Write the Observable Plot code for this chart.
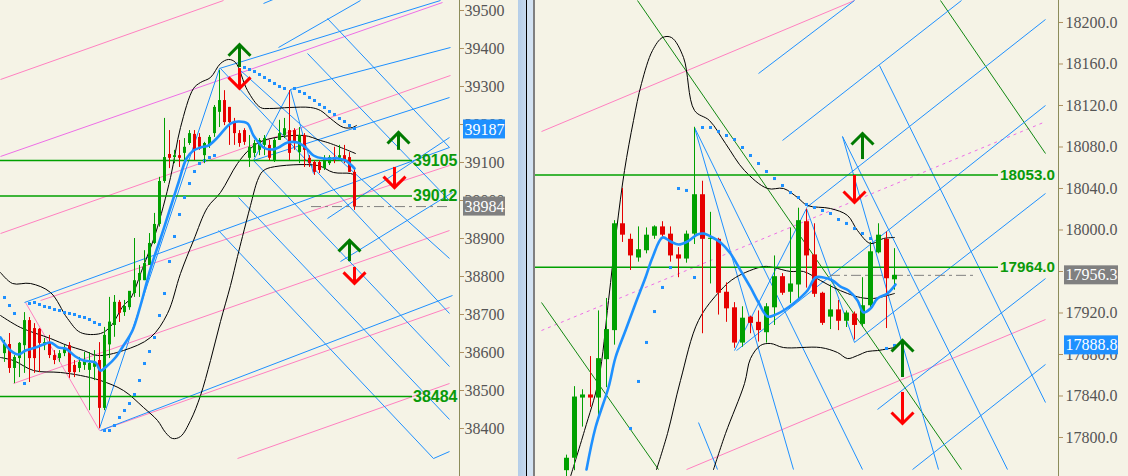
<!DOCTYPE html>
<html><head><meta charset="utf-8">
<script src="https://cdn.jsdelivr.net/npm/d3@7"></script>
<script src="https://cdn.jsdelivr.net/npm/@observablehq/plot@0.6"></script>
<style>
html,body{margin:0;padding:0;background:#f5f3e6;}
#wrap{position:relative;width:1128px;height:476px;overflow:hidden;background:#f5f3e6;}
#left{position:absolute;left:0;top:0;}
#right{position:absolute;left:535px;top:0;}
.sep{position:absolute;top:0;height:476px;}
</style></head><body>
<div id="wrap">
<div id="left"></div>
<div class="sep" style="left:518px;width:8px;background:linear-gradient(90deg,#b4cde8,#c6d9ee);"></div>
<div class="sep" style="left:526px;width:1px;background:#000;"></div>
<div class="sep" style="left:527px;width:6px;background:#d3e2f2;"></div>
<div class="sep" style="left:533px;width:2px;background:#7f7f7f;"></div>
<div id="right"></div>
</div>
<script>
// ---------------- LEFT PANEL DATA ----------------
const leftTicks = [38400,38500,38600,38700,38800,38900,39000,39100,39200,39300,39400,39500];
const leftOpen  = [38597,38621,38558,38584,38618,38684,38663,38661,38618,38626,38592,38584,38597,38618,38566,38558,38566,38553,38561,38579,38453,38620,38671,38732,38705,38718,38755,38789,38789,38829,38887,38937,39050,39121,39113,39118,39124,39150,39174,39166,39118,39145,39176,39232,39263,39245,39205,39176,39184,39111,39124,39132,39145,39145,39105,39158,39171,39184,39184,39126,39171,39111,39100,39100,39084,39097,39113,39111,39118,39113,39074];
const leftHigh  = [38632,38650,38592,38626,38705,38692,38676,38663,38637,38645,38605,38605,38618,38626,38579,38587,38600,38600,38605,38626,38666,38745,38750,38737,38737,38750,38900,38829,38868,38913,38966,39061,39216,39184,39132,39158,39163,39184,39184,39176,39153,39171,39250,39342,39289,39245,39216,39184,39189,39171,39158,39163,39171,39158,39163,39211,39216,39289,39189,39192,39176,39118,39105,39105,39118,39118,39140,39145,39145,39126,39087];
const leftLow   = [38574,38545,38518,38534,38545,38521,38545,38547,38605,38584,38568,38574,38589,38532,38534,38547,38553,38447,38526,38400,38447,38584,38640,38679,38695,38711,38745,38745,38789,38829,38884,38930,39045,39084,39097,39087,39097,39145,39105,39132,39097,39137,39166,39192,39197,39145,39145,39140,39145,39087,39113,39118,39118,39105,39100,39158,39163,39105,39132,39097,39087,39087,39066,39071,39079,39092,39097,39105,39097,39074,38974];
const leftClose = [38621,38558,38587,38624,38684,38584,38584,38624,38626,38592,38579,38597,38611,38547,38547,38574,38579,38571,38574,38453,38645,38680,38732,38703,38721,38761,38789,38808,38834,38887,38937,39050,39113,39111,39118,39111,39140,39176,39132,39140,39150,39166,39245,39263,39205,39205,39176,39150,39153,39140,39150,39158,39163,39111,39158,39176,39189,39124,39150,39171,39132,39097,39074,39079,39111,39113,39105,39118,39105,39074,38984];
const leftMA = [[-0.8,38639.5],[1.2,38605.2],[2.8,38594.7],[4.2,38605.2],[6.2,38613.2],[7.8,38621.0],[9.2,38626.3],[10.8,38613.2],[12.2,38610.5],[14.2,38589.5],[15.8,38578.9],[18.2,38573.7],[19.2,38552.6],[20.6,38565.8],[22.2,38586.8],[23.8,38618.4],[25.6,38657.9],[27.2,38723.7],[29.2,38821.0],[31.2,38900.0],[33.2,38981.6],[34.8,39047.4],[36.4,39110.5],[37.8,39131.6],[39.2,39139.5],[40.8,39144.7],[42.6,39165.8],[45.2,39202.6],[46.8,39207.9],[48.6,39202.6],[49.8,39171.0],[51.8,39139.5],[53.6,39134.2],[54.8,39139.5],[56.6,39152.6],[58.6,39152.6],[60.2,39139.5],[61.8,39118.4],[63.8,39110.5],[66.6,39110.5],[68.2,39105.2],[70,39084.2]];
const leftBBUp = [[-0.8,38810.5],[1.6,38781.6],[5.2,38781.6],[9.2,38757.9],[12.6,38689.5],[15.2,38652.6],[19.2,38650.0],[21.2,38668.4],[23.8,38723.7],[25.2,38742.1],[27.6,38821.0],[30.2,38913.2],[33.2,39060.5],[35.2,39192.1],[37.8,39294.7],[39.2,39310.5],[41.2,39323.7],[43.2,39360.5],[44.8,39371.1],[46.2,39363.2],[48.6,39289.5],[51.2,39244.7],[53,39242.1],[57,39244.7],[61.2,39244.7],[63.2,39236.8],[65.2,39215.8],[67.8,39192.1],[69.6,39192.1],[70.4,39197.4]];
const leftBBMid = [[-0.8,38697.4],[3.2,38665.8],[9.2,38636.8],[12.6,38618.4],[15.8,38605.3],[18.6,38592.1],[23.8,38605.3],[29.2,38639.5],[32.6,38702.6],[35.2,38807.9],[37.8,38894.7],[40.6,38981.6],[43.2,39021.1],[46.6,39097.4],[49.2,39136.8],[51.8,39157.9],[59.8,39171.1],[63.2,39157.9],[65.2,39150.0],[70.2,39123.7]];
const leftBBLow = [[-0.8,38586.8],[1.8,38578.9],[5.8,38552.6],[11.2,38547.4],[15.2,38539.5],[19.2,38526.3],[23.8,38500.0],[27.8,38455.3],[30.6,38421.1],[32.2,38389.5],[33.6,38373.7],[35.2,38378.9],[37.2,38421.0],[39.2,38486.8],[41.2,38578.9],[43.2,38681.6],[45.2,38776.3],[46.6,38852.6],[47.6,38905.3],[49.2,38986.8],[50.6,39052.6],[51.6,39076.3],[53.2,39086.8],[62.6,39092.1],[65.8,39073.7],[69.2,39071.1],[70.2,39065.8]];
const leftSAR = [[0,38744.7],[1,38723.7],[2,38702.6],[4,38518.4],[5,38729.0],[6,38731.6],[7,38726.3],[8,38721.1],[9,38718.4],[10,38713.2],[11,38710.5],[12,38705.3],[13,38702.6],[14,38700.0],[15,38694.7],[16,38692.1],[17,38686.8],[18,38678.9],[19,38673.7],[20,38394.7],[21,38394.7],[22,38407.9],[23,38429.0],[24,38447.4],[25,38465.8],[26,38489.5],[27,38526.3],[28,38571.1],[29,38602.6],[30,38639.5],[31,38697.4],[32,38755.3],[33,38839.5],[34,38905.2],[35,38963.2],[36,39007.9],[37,39044.7],[38,39076.3],[39,39097.4],[40,39105.3],[41,39113.2],[42,39118.4],[48,39350.0],[49,39344.7],[50,39339.5],[51,39331.6],[52,39323.7],[53,39315.8],[54,39307.9],[55,39300.0],[56,39294.7],[58,39294.7],[59,39286.8],[60,39281.6],[61,39271.1],[62,39263.2],[63,39252.6],[64,39244.7],[65,39234.2],[66,39226.3],[67,39215.8],[68,39207.9],[69,39197.4],[70,39189.5]];
const leftBlueLines = [[4,38731.6,89,39139.5],[19.2,38394.7,89.6,38750.0],[43,39347.4,87.2,39526.3],[54.8,39402.6,71.2,39526.3],[57.2,39292.1,89.2,39402.6],[49.8,39105.2,89,39271.0],[64.6,38952.6,89,39165.8],[67.2,38839.4,89.6,39021.0],[85.8,38321.0,89,38339.4],[51.8,39518.4,54.2,39531.6],[19,38400,43,39347.4],[57.2,39292.1,49.8,39105.2],[57.2,39292.1,61.8,39071.0],[64.6,39478.9,89,39139.5],[60.6,39386.8,89,39000.0],[47.2,39342.1,89,38847.4],[43.2,39347.4,89,38702.6],[49.8,39105.2,89,38563.1],[46.8,39007.9,89,38423.7],[42.8,38921.0,85.8,38321.0]];
const leftPinkLines = [[-0.8,39318.4,43.8,39526.3],[-0.8,38913.1,89.2,39329.0],[7.2,38736.8,89,39092.1],[1.8,38518.4,89,38921.0],[19.2,38394.7,89,38718.4],[46.6,38321.0,89,38518.4],[4.2,38731.6,19,38394.7]];
const leftVioletLines = [[-0.8,39115.8,87.6,39521.0]];
const leftLevels = [39105, 39012, 38484];
const leftLast = 38984;
const leftMarker = 39187;
const leftArrowsUp = [[47,39350,39410],[78.8,39132,39179],[69,38839,38895]];
const leftArrowsDown = [[47,39347,39295],[78,39087,39034],[70,38824,38782]];

// ---------------- RIGHT PANEL DATA ----------------
const rightTicks = [17800,17840,17880,17920,17960,18000,18040,18080,18120,18160,18200];
const rightOpen  = [17768,17780,17838,17841,17838,17875,17903,18006,17991,17973,17980,17994,18003,17996,17976,17972,17996,18034,17991,17991,17940,17925,17891,17916,17911,17901,17925,17955,17940,17947,18008,17976,17939,17916,17923,17912,17919,17909,17927,17978,17991,17952];
const rightHigh  = [17783,17849,17846,17878,17922,17934,18009,18040,17996,18003,18002,18004,18008,18003,17983,17999,18099,18047,18017,17992,17949,17930,17926,17917,17922,17929,17975,17958,18002,18021,18020,18006,17940,17947,17932,17922,17921,17954,17988,18006,17998,17982];
const rightLow   = [17759,17768,17810,17829,17816,17848,17889,17988,17961,17969,17977,17991,17993,17969,17954,17968,17986,17900,17948,17918,17911,17886,17887,17900,17892,17891,17908,17937,17929,17932,17944,17935,17908,17904,17903,17906,17894,17906,17924,17977,17905,17942];
const rightClose = [17780,17839,17841,17838,17876,17904,18006,17995,17975,17981,17995,18003,17995,17975,17972,17996,18034,17991,17992,17939,17924,17891,17915,17910,17903,17926,17955,17939,17948,18009,17975,17938,17910,17923,17912,17920,17908,17927,17979,17995,17953,17956.3];
const rightMA = [[2.5,17769.1],[3.625,17809.6],[5.25,17848.2],[6.125,17877.1],[7.375,17903.1],[8.625,17929.2],[9.875,17954.2],[10.75,17973.5],[12,17992.8],[13,17988.9],[14,17986.0],[15.125,17988.9],[16.375,17995.7],[17.125,17996.6],[18.25,17992.8],[19.25,17988.0],[20.5,17977.3],[21.75,17961.0],[23,17944.6],[24,17930.1],[25.125,17916.6],[25.875,17917.6],[27.125,17922.4],[28.375,17929.2],[30.125,17941.7],[31.125,17954.2],[32.125,17954.2],[33.25,17951.3],[34.25,17945.5],[35.25,17941.7],[36.375,17932.0],[37.125,17920.5],[38,17924.3],[38.875,17934.0],[40.125,17938.8],[41.125,17947.5]];
const rightBBUp = [[0.5,17762.4],[2.25,17806.7],[4,17855.0],[5.25,17932.0],[6.25,17999.5],[7.25,18057.3],[8.375,18105.5],[9.375,18141.2],[10.75,18173.0],[12,18185.5],[13.125,18185.5],[14.625,18166.3],[16,18115.2],[17.875,18105.5],[19.875,18083.4],[22.25,18057.3],[25.125,18040.0],[27.125,18040.0],[28.875,18031.3],[30.125,18023.6],[33,18020.7],[35.125,18014.0],[36.375,17999.5],[38,17987.0],[39.625,17991.8],[41,17992.8]];
const rightBBMid = [[11.25,17769.1],[12.625,17803.8],[14.25,17855.0],[16.5,17912.8],[19.25,17941.7],[21.125,17954.2],[24.625,17964.8],[25.875,17963.8],[28,17960.0],[29.625,17960.0],[31.75,17951.3],[33.375,17944.6],[35.125,17938.8],[36.75,17934.9],[38.375,17934.0],[40.125,17936.9],[41,17938.8]];
const rightBBLow = [[18.375,17769.1],[19.875,17803.8],[22.25,17852.0],[23,17876.1],[24.25,17888.7],[25.5,17890.6],[27.125,17886.7],[31.75,17886.7],[33.875,17881.9],[35.125,17876.1],[36.375,17879.0],[37.625,17882.9],[38.875,17883.8],[41,17886.7]];
const rightSAR = [[8,17808.7],[9,17854.0],[10,17891.6],[11,17921.4],[12,17944.6],[13,17963.8],[14,18040.0],[15,18038.1],[16,17954.2],[17,18098.8],[18,18098.8],[19,18095.0],[20,18091.1],[21,18087.2],[22,18079.5],[23,18071.8],[24,18064.1],[25,18056.4],[26,18049.6],[27,18042.9],[28,18036.1],[29,18031.3],[30,18024.6],[31,18021.7],[32,18018.8],[33,18015.9],[34,18010.1],[35,18006.3],[36,18001.4],[37,17996.6],[38,17991.8],[40,17885.8],[41,17888.7]];
const rightBlueLines = [[30,18021.7,59.875,18202.9],[21.25,17883.8,59.875,18120.0],[36,17891.6,59.875,18035.2],[38.875,17827.0,59.875,17953.2],[43.25,17769.1,59.875,17870.4],[24,18150.8,36,18221.2],[27,18086.3,49.375,18221.2],[21,17883.8,30,18020.7],[16,18098.8,28.375,17769.1],[16,18098.8,37,17769.1],[34.5,18090.1,46.5,17769.1],[34.5,18090.1,55.125,17769.1],[39.125,18158.5,59.875,17833.7],[30,18020.7,36,17891.6],[16.5,17814.4,18.875,17769.1]];
const rightPinkLines = [[-3.125,18094.9,36,18221.2],[15,17769.1,59.875,17913.7]];
const rightVioletDotted = [[-3.125,17903.1,59.625,18103.6]];
const rightGreenLines = [[8.875,18221.2,49.375,17769.1],[-3.125,17930.1,11.5,17769.1],[46.75,18221.2,59.875,18073.7]];
const rightLevels = [18053.0, 17964.0];
const rightLast = 17956.3;
const rightMarker = 17888.8;
const rightArrowsUp = [[37,18067.9,18093.0],[42,17857.8,17893.5]];
const rightArrowsDown = [[36,18052.5,18026.5],[42,17843.4,17813.5]];

// ---------------- STYLE ----------------
const UP="#00a000", DOWN="#e60000", BLUE="#1e90ff", PINK="#ff80c0", VIOLET="#ee6ee6",
      GREEN="#00a000", DKGREEN="#007a00", AXIS="#8c8c5a", TICK="#b09060", LABEL="#0a9a0a";
const SERIF="'Liberation Serif', 'Times New Roman', serif";
const SANS="'Liberation Sans', Arial, sans-serif";

function chevron(s){ // s=1 tip at top, s=-1 tip at bottom
  return {draw(ctx,size){const r=Math.sqrt(size/Math.PI); ctx.moveTo(-r,s*r); ctx.lineTo(0,0); ctx.lineTo(r,s*r);}};
}
function candleMarks(O,H,L,C,bw){
  const data=O.map((o,i)=>({i,o,h:H[i],l:L[i],c:C[i],col:C[i]>=o?UP:DOWN}));
  return [
    Plot.ruleX(data,{x:"i",y1:"l",y2:"h",stroke:"col",strokeWidth:1}),
    Plot.ruleX(data,{x:"i",y1:"o",y2:"c",stroke:"col",strokeWidth:bw})
  ];
}
const seg=(data,o)=>Plot.link(data,{x1:d=>d[0],y1:d=>d[1],x2:d=>d[2],y2:d=>d[3],clip:true,...o});
const pts=(data,o)=>Plot.line(data,{x:d=>d[0],y:d=>d[1],curve:"catmull-rom",clip:true,...o});
function arrows(up,down){
  return [
    Plot.ruleX(up,{x:d=>d[0],y1:d=>d[1],y2:d=>d[2],stroke:DKGREEN,strokeWidth:3}),
    Plot.dot(up,{x:d=>d[0],y:d=>d[2],symbol:chevron(1),r:11,stroke:DKGREEN,strokeWidth:3,fill:"none",strokeLinejoin:"miter"}),
    Plot.ruleX(down,{x:d=>d[0],y1:d=>d[1],y2:d=>d[2],stroke:"#ff0000",strokeWidth:3}),
    Plot.dot(down,{x:d=>d[0],y:d=>d[2],symbol:chevron(-1),r:11,stroke:"#ff0000",strokeWidth:3,fill:"none",strokeLinejoin:"miter"})
  ];
}

function panel(cfg){
  const [x0,x1]=cfg.xDomain;
  return Plot.plot({
    width:cfg.width, height:476, marginLeft:0, marginRight:cfg.marginRight, marginTop:0, marginBottom:0,
    x:{domain:cfg.xDomain, axis:null},
    y:{domain:cfg.yDomain},
    color:{type:"identity"},
    style:{background:"transparent", fontFamily:SERIF, fontSize:"16px"},
    marks:[
      ...cfg.lines,
      pts(cfg.bbUp,{stroke:"#000",strokeWidth:1}),
      pts(cfg.bbMid,{stroke:"#000",strokeWidth:1}),
      pts(cfg.bbLow,{stroke:"#000",strokeWidth:1}),
      Plot.ruleY(cfg.levels,{y:d=>d,x1:()=>x0,x2:()=>cfg.levelEnd,stroke:GREEN,strokeWidth:1.5}),
      Plot.ruleY([cfg.last],{y:d=>d,x1:()=>cfg.dashFrom,x2:()=>cfg.dashTo,stroke:"#808080",strokeWidth:1,strokeDasharray:"10,4,3,4"}),
      Plot.dot(cfg.sar,{x:d=>d[0],y:d=>d[1],symbol:"square",r:1.7,fill:BLUE,clip:true}),
      ...candleMarks(cfg.O,cfg.H,cfg.L,cfg.C,cfg.bodyW),
      pts(cfg.ma,{stroke:BLUE,strokeWidth:2.6}),
      ...arrows(cfg.up,cfg.down),
      Plot.text(cfg.levels,{x:()=>cfg.labelX,y:d=>d,text:cfg.levelFmt,textAnchor:"start",fill:LABEL,fontSize:cfg.labelSize,fontWeight:"bold",fontFamily:SANS}),
      Plot.ruleX([x1],{stroke:AXIS,strokeWidth:1}),
      Plot.axisY(cfg.ticks,{anchor:"right",tickSize:4,tickPadding:cfg.tickPadding,tickFormat:cfg.tickFmt,stroke:TICK,fill:"#555"}),
      Plot.rect([cfg.marker],{x1:()=>x1,x2:()=>x1,y1:d=>d,y2:d=>d,insetLeft:cfg.boxL,insetRight:-cfg.boxR,insetTop:-9.5,insetBottom:-9.5,fill:BLUE}),
      Plot.text([cfg.marker],{x:()=>x1,y:d=>d,dx:cfg.boxL+1,text:cfg.tickFmt,textAnchor:"start",fill:"#fff"}),
      Plot.rect([cfg.last],{x1:()=>x1,x2:()=>x1,y1:d=>d,y2:d=>d,insetLeft:cfg.boxL,insetRight:-cfg.boxR,insetTop:-9.5,insetBottom:-9.5,fill:"#808080"}),
      Plot.text([cfg.last],{x:()=>x1,y:d=>d,dx:cfg.boxL+1,text:cfg.tickFmt,textAnchor:"start",fill:"#fff"})
    ]
  });
}

const fmtInt=d=>String(Math.round(d));
const fmt1=d3.format(".1f");

document.getElementById("left").append(panel({
  width:518, marginRight:59, xDomain:[-0.8,91], yDomain:[38273.7,39526.3],
  ticks:leftTicks, tickFmt:fmtInt, levelFmt:fmtInt, tickPadding:1, labelSize:16,
  O:leftOpen,H:leftHigh,L:leftLow,C:leftClose, bodyW:3,
  ma:leftMA, bbUp:leftBBUp, bbMid:leftBBMid, bbLow:leftBBLow, sar:leftSAR,
  lines:[
    seg(leftPinkLines,{stroke:PINK,strokeWidth:1}),
    seg(leftVioletLines,{stroke:VIOLET,strokeWidth:1}),
    seg(leftBlueLines,{stroke:BLUE,strokeWidth:1})
  ],
  levels:leftLevels, levelEnd:81.6, labelX:81.7,
  last:leftLast, dashFrom:61.4, dashTo:89.4, marker:leftMarker,
  up:leftArrowsUp, down:leftArrowsDown, boxL:4, boxR:46
}));

document.getElementById("right").append(panel({
  width:593, marginRight:70, xDomain:[-3.875,61.5], yDomain:[17762.4,18221.2],
  ticks:rightTicks, tickFmt:fmt1, levelFmt:fmt1, tickPadding:3, labelSize:15.2,
  O:rightOpen,H:rightHigh,L:rightLow,C:rightClose, bodyW:5,
  ma:rightMA, bbUp:rightBBUp, bbMid:rightBBMid, bbLow:rightBBLow, sar:rightSAR,
  lines:[
    seg(rightPinkLines,{stroke:PINK,strokeWidth:1}),
    seg(rightVioletDotted,{stroke:VIOLET,strokeWidth:1,strokeDasharray:"3,4"}),
    seg(rightGreenLines,{stroke:"#118811",strokeWidth:1}),
    seg(rightBlueLines,{stroke:BLUE,strokeWidth:1})
  ],
  levels:rightLevels, levelEnd:54.0, labelX:54.2,
  last:rightLast, dashFrom:33, dashTo:51.1, marker:rightMarker,
  up:rightArrowsUp, down:rightArrowsDown, boxL:6, boxR:60
}));
</script>
</body></html>
